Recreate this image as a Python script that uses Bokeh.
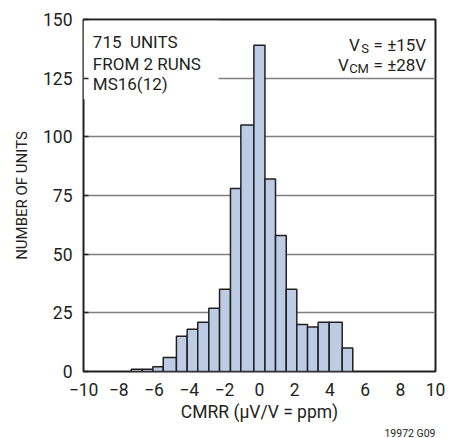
from bokeh.plotting import figure
from bokeh.models import Range1d, FixedTicker, Label, BoxAnnotation, Title
from bokeh.embed import file_html
from bokeh.resources import INLINE

# Histogram data
bin_edges = [-7.29, -6.66, -6.06, -5.47, -4.72, -4.11, -3.51, -2.88, -2.27, -1.65,
             -1.06, -0.32, 0.31, 0.91, 1.52, 2.12, 2.73, 3.33, 3.96, 4.70, 5.30]
counts = [1, 1, 2, 6, 15, 18, 21, 27, 35, 78, 105, 139, 82, 58, 35, 20, 19, 21, 21, 10]

x_ticks = [-10, -8, -6, -4, -2, 0, 2, 4, 6, 8, 10]
y_ticks = [0, 25, 50, 75, 100, 125, 150]
x_tick_labels = {t: (("\u2212" + str(-t)) if t < 0 else str(t)) for t in x_ticks}

FONT = "Roboto"
INK = "#231f20"

p = figure(frame_width=352, frame_height=352,
           min_border_left=83, min_border_right=24, min_border_top=19, min_border_bottom=0,
           x_range=Range1d(-10, 10), y_range=Range1d(0, 150),
           output_backend="svg", toolbar_location=None)

p.background_fill_color = "white"
p.border_fill_color = "white"
p.outline_line_color = INK
p.outline_line_width = 2

p.xgrid.visible = False
p.ygrid.grid_line_color = "#7f7f7f"
p.ygrid.grid_line_width = 1.5
p.ygrid.ticker = FixedTicker(ticks=y_ticks)

# mask behind the upper-left note
p.add_layout(BoxAnnotation(left=-10, right=-2.33, bottom=116, top=149.5,
                           fill_color="white", fill_alpha=1.0, line_color=None,
                           level="glyph"))

p.quad(left=bin_edges[:-1], right=bin_edges[1:], top=counts, bottom=0,
       fill_color="#bdcce5", line_color=INK, line_width=1.5)

for ax in (p.xaxis[0], p.yaxis[0]):
    ax.axis_line_color = None
    ax.minor_tick_line_color = None
    ax.major_label_text_font = FONT
    ax.major_label_text_font_size = "17.5px"
    ax.major_label_text_color = INK
    ax.axis_label_text_font = FONT
    ax.axis_label_text_font_style = "normal"
    ax.axis_label_text_color = INK

p.xaxis.ticker = FixedTicker(ticks=x_ticks)
p.xaxis.major_label_overrides = x_tick_labels
p.xaxis.major_tick_line_color = None
p.xaxis.major_label_standoff = 5
p.xaxis.axis_label = "CMRR (\u00b5V/V = ppm)"
p.xaxis.axis_label_text_font_size = "17.5px"
p.xaxis.axis_label_standoff = 3

p.yaxis.ticker = FixedTicker(ticks=y_ticks)
p.yaxis.major_tick_in = 5
p.yaxis.major_tick_out = 0
p.yaxis.major_tick_line_color = INK
p.yaxis.major_tick_line_width = 1.5
p.yaxis.major_label_standoff = 11
p.yaxis.axis_label = "NUMBER OF UNITS"
p.yaxis.axis_label_text_font_size = "15px"
p.yaxis.axis_label_standoff = 9

def lab(text, x, y, align="left", size="17px"):
    p.add_layout(Label(x=x, y=y, text=text, text_align=align, text_baseline="alphabetic",
                       text_font=FONT, text_font_size=size, text_color=INK))

# upper-left note
lab("715 \u00a0UNITS", -9.47, 140.4)
lab("FROM 2 RUNS", -9.47, 131.1)
lab("MS16(12)", -9.47, 122.6)

# upper-right note with subscripts
lab("= \u00b115V", 9.47, 139.1, "right")
lab("S", 6.22, 137.8, "right", "13px")
lab("V", 5.70, 139.1, "right")
lab("= \u00b128V", 9.47, 130.4, "right")
lab("CM", 6.22, 129.1, "right", "13px")
lab("V", 5.07, 130.4, "right")

# figure code below the axis
p.add_layout(Title(text="19972 G09", align="right", text_font=FONT, text_font_size="10.5px",
                   text_font_style="normal", text_color=INK, standoff=0, offset=0), "below")

open("out.html", "w").write(file_html(p, INLINE))
